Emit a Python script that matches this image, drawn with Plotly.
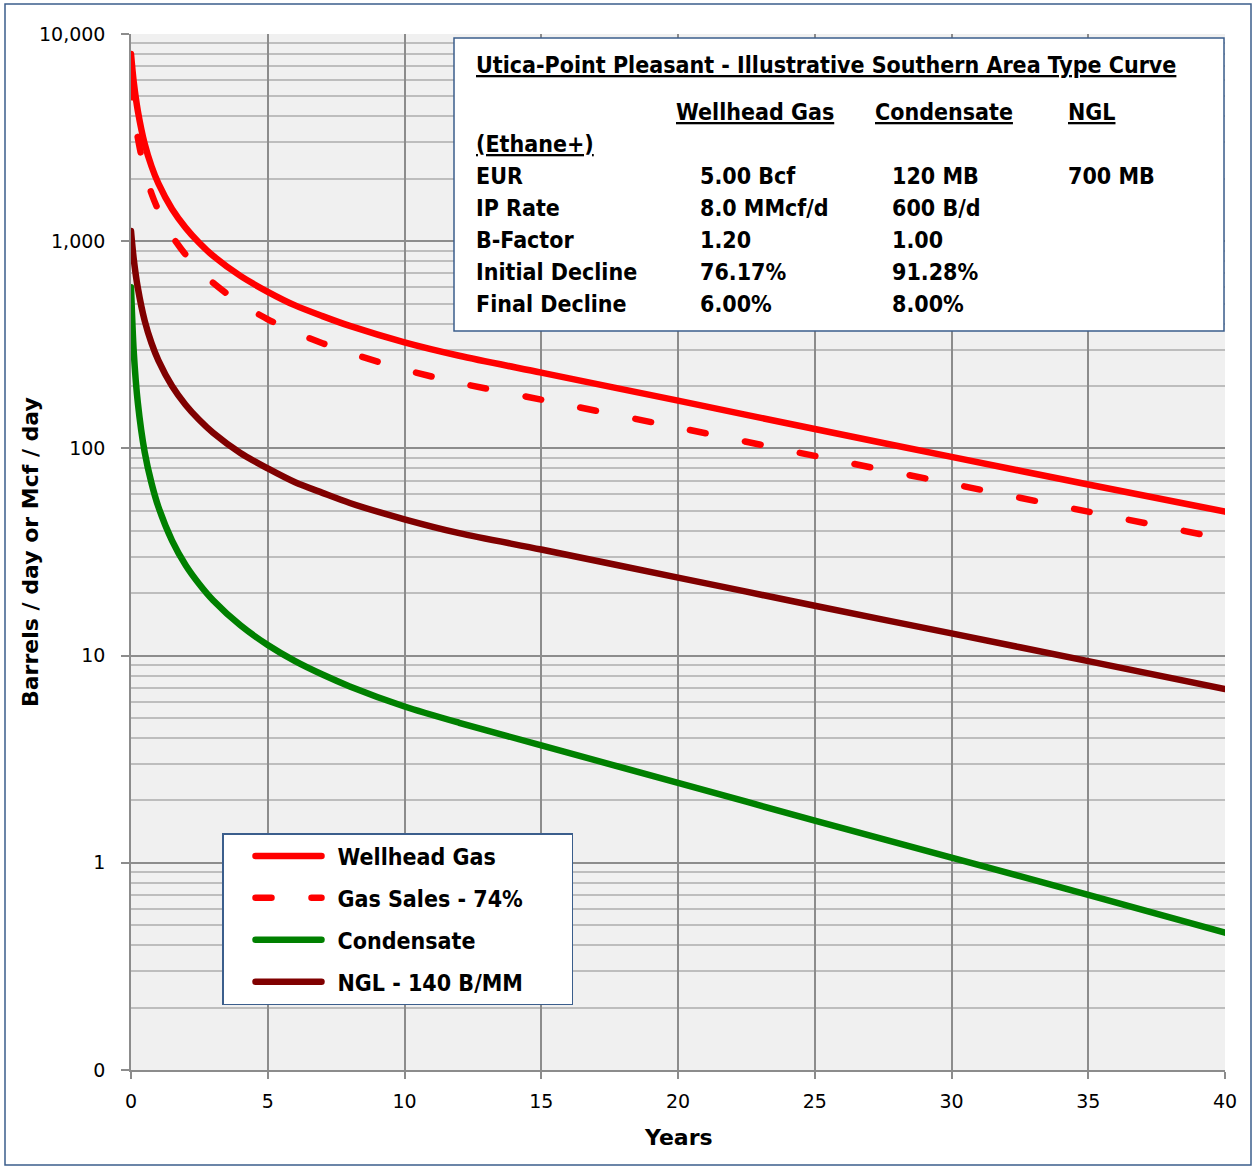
import plotly.graph_objects as go

# ---------------- data ----------------
years = [0, 0.1, 0.25, 0.5, 0.75, 1, 1.5, 2, 2.5, 3, 4, 5, 6, 7, 8, 10, 12, 15, 20, 25, 30, 35, 40]

wellhead_gas = [8000, 5850, 4250, 2950, 2300, 1900, 1430, 1160, 980, 850, 680, 570, 490, 435,
                390, 325, 280, 232, 170, 124, 91, 67, 49.5]
gas_sales = [5920, 4330, 3150, 2180, 1700, 1410, 1060, 860, 725, 630, 500, 420, 363, 322,
             289, 240, 207, 172, 126, 92, 67.5, 49.5, 36.5]
condensate = [600, 293, 166, 96, 68, 52.3, 35.9, 27.3, 22.1, 18.5, 14.0, 11.25, 9.4, 8.1,
              7.1, 5.68, 4.74, 3.69, 2.43, 1.60, 1.06, 0.70, 0.46]
ngl = [1120, 820, 595, 413, 322, 266, 200, 162, 137, 119, 95, 80, 68.6, 61,
       54.5, 45.5, 39, 32.5, 23.8, 17.4, 12.8, 9.4, 6.9]

series_names = ["Wellhead Gas", "Gas Sales - 74%", "Condensate", "NGL - 140 B/MM"]
series_colors = ["#FF0000", "#FF0000", "#008000", "#800000"]

y_tickvals = [0.1, 1, 10, 100, 1000, 10000]
y_ticktext = ["0", "1", "10", "100", "1,000", "10,000"]
x_tickvals = [0, 5, 10, 15, 20, 25, 30, 35, 40]

table_title = "Utica-Point Pleasant - Illustrative Southern Area Type Curve"
table_headers = ["Wellhead Gas", "Condensate", "NGL"]
table_row_labels = ["EUR", "IP Rate", "B-Factor", "Initial Decline", "Final Decline"]
table_gas = ["5.00 Bcf", "8.0 MMcf/d", "1.20", "76.17%", "6.00%"]
table_cond = ["120 MB", "600 B/d", "1.00", "91.28%", "8.00%"]
table_ngl = ["700 MB", "", "", "", ""]

# ---------------- layout geometry (pixels) ----------------
W, H = 1256, 1168
L, R, T, B = 131, 31, 34, 98
PW, PH = W - L - R, H - T - B


def px(x):
    return (x - L) / PW


def py(y):
    return (H - B - y) / PH


COND_FONT = "DejaVu Sans Condensed, Liberation Sans Narrow, Arial Narrow, sans-serif"
BASE_FONT = "DejaVu Sans, Verdana, sans-serif"
BORDER = "#3B5E8C"

fig = go.Figure()

all_series = [wellhead_gas, gas_sales, condensate, ngl]
dashes = ["solid", "16px,40px", "solid", "solid"]
legend_pad = ["", "", "", "\u00a0" * 6]
for i, (name, vals) in enumerate(zip(series_names, all_series)):
    fig.add_trace(go.Scatter(
        x=years, y=vals, mode="lines", name=name + legend_pad[i],
        line=dict(color=series_colors[i], width=6.5, dash=dashes[i],
                  shape="spline", smoothing=0.8),
        legendgroup=str(i),
    ))

minor_vals = [m * 10 ** e for e in range(-1, 4) for m in range(2, 10)]

fig.update_layout(
    width=W, height=H,
    margin=dict(l=L, r=R, t=T, b=B),
    paper_bgcolor="white",
    plot_bgcolor="#F0F0F0",
    font=dict(family=BASE_FONT, size=19, color="black"),
    showlegend=True,
    legend=dict(
        x=px(222), y=py(833), xanchor="left", yanchor="top",
        bgcolor="white", bordercolor=BORDER, borderwidth=1.5,
        font=dict(family=COND_FONT, size=23, color="black", weight="bold"),
        itemwidth=104, tracegroupgap=9,
    ),
    xaxis=dict(
        range=[0, 40], tickmode="array", tickvals=x_tickvals,
        showgrid=True, gridcolor="#8C8C8C", gridwidth=1.5,
        showline=True, linecolor="#8C8C8C", linewidth=1.5,
        ticks="outside", ticklen=7, tickcolor="#8C8C8C", tickwidth=1.5,
        zeroline=False, ticklabelstandoff=6,
        tickfont=dict(family=BASE_FONT, size=19),
    ),
    yaxis=dict(
        type="log", range=[-1, 4], tickmode="array",
        tickvals=y_tickvals, ticktext=y_ticktext,
        showgrid=True, gridcolor="#8C8C8C", gridwidth=1.5,
        showline=True, linecolor="#8C8C8C", linewidth=1.5,
        ticks="outside", ticklen=8, tickcolor="#8C8C8C", tickwidth=1.5,
        zeroline=False, ticklabelstandoff=12,
        tickfont=dict(family=BASE_FONT, size=19),
        minor=dict(tickmode="array", tickvals=minor_vals, showgrid=True,
                   gridcolor="#BDBDBD", gridwidth=1.5, ticks=""),
    ),
)

shapes = [
    # outer border around whole chart
    dict(type="rect", xref="paper", yref="paper",
         x0=px(5), x1=px(1251), y0=py(1165), y1=py(4),
         line=dict(color=BORDER, width=1.5), fillcolor="rgba(0,0,0,0)", layer="above"),
    # info table box
    dict(type="rect", xref="paper", yref="paper",
         x0=px(454), x1=px(1224), y0=py(331), y1=py(38),
         line=dict(color=BORDER, width=1.5), fillcolor="white", layer="above"),
]
fig.update_layout(shapes=shapes)

ann = []


def txt(x, y, s, size=23, font=COND_FONT, anchor="left", **kw):
    ann.append(dict(x=px(x), y=py(y), xref="paper", yref="paper", text=s,
                    showarrow=False, xanchor=anchor, yanchor="middle",
                    font=dict(family=font, size=size, color="black"), **kw))


txt(474, 65, "<b><u>" + table_title + "</u></b>")
hdr_x = [674, 873, 1066]
for hx, h in zip(hdr_x, table_headers):
    txt(hx, 112, "<b><u>" + h + "</u></b>")
txt(474, 144, "<b><u>(Ethane+)</u></b>")
row_y = [176, 208, 240, 272, 304]
for ry, lab, g, c, n in zip(row_y, table_row_labels, table_gas, table_cond, table_ngl):
    txt(474, ry, "<b>" + lab + "</b>")
    txt(698, ry, "<b>" + g + "</b>")
    txt(890, ry, "<b>" + c + "</b>")
    if n:
        txt(1066, ry, "<b>" + n + "</b>")

# axis titles
txt(678, 1137, "<b>Years</b>", size=22, font=BASE_FONT, anchor="center")
ann.append(dict(x=px(30), y=py(552), xref="paper", yref="paper",
                text="<b>Barrels / day or Mcf / day</b>", showarrow=False,
                xanchor="center", yanchor="middle", textangle=-90,
                font=dict(family=BASE_FONT, size=22, color="black")))
fig.update_layout(annotations=ann)

post = (
    "document.body.style.margin='0';document.body.style.padding='0';"
    "document.querySelectorAll('.scatterlayer .js-line')"
    ".forEach(function(p){p.style.strokeLinecap='round';});"
    "document.querySelectorAll('.legendlines path')"
    ".forEach(function(p){p.setAttribute('d','M32,0h66');p.style.strokeLinecap='round';});"
)
fig.write_html("out.html", config={"displayModeBar": False}, post_script=post)
